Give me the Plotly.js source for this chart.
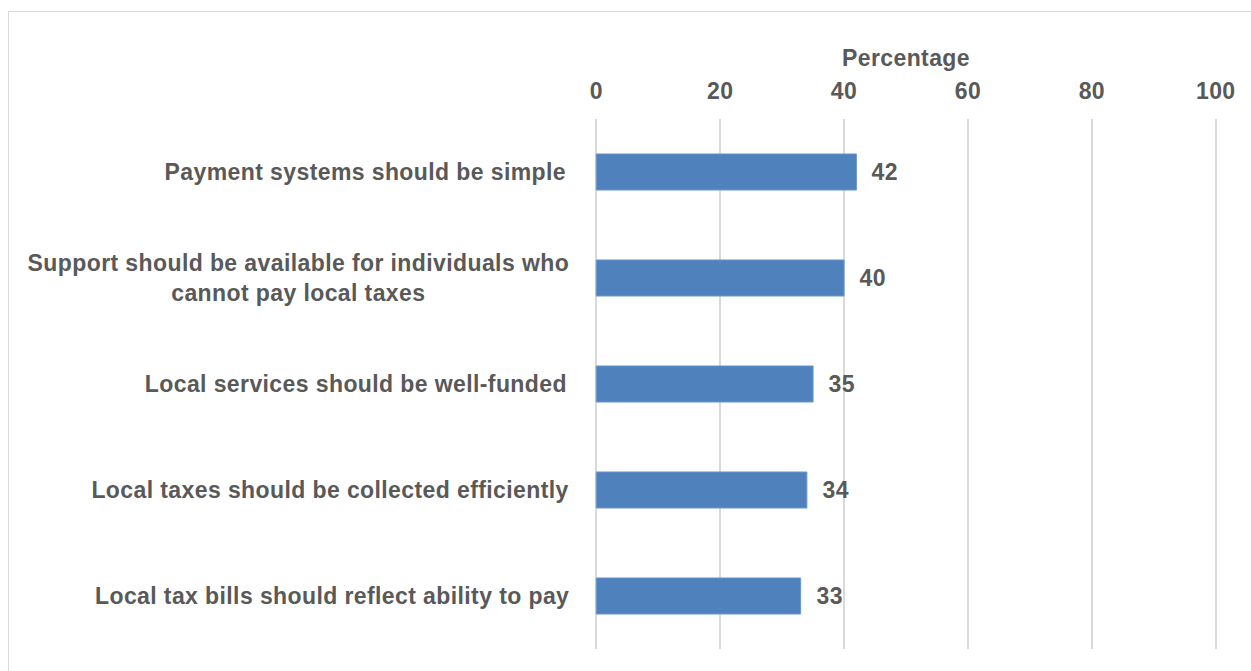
<!DOCTYPE html>
<html>
<head>
<meta charset="utf-8">
<script src="https://cdn.plot.ly/plotly-3.0.1.min.js"></script>
<style>
  html, body { margin: 0; padding: 0; background: #ffffff; }
  #wrap { position: relative; width: 1251px; height: 671px; overflow: hidden; }
  #frame { position: absolute; left: 8px; top: 11px; width: 1400px; height: 800px; border: 1px solid #d9d9d9; pointer-events: none; }
  #chart { position: absolute; left: 0; top: 0; width: 1251px; height: 671px; }
  #chart svg text { letter-spacing: 0.4px; }
</style>
</head>
<body>
<div id="wrap">
  <div id="frame"></div>
  <div id="chart"></div>
</div>
<script>
const categories = [
  "Payment systems should be simple",
  "Support should be available for individuals who<br>cannot pay local taxes",
  "Local services should be well-funded",
  "Local taxes should be collected efficiently",
  "Local tax bills should reflect ability to pay"
];
const values = [42, 40, 35, 34, 33];
const xTicks = [0, 20, 40, 60, 80, 100];

const FONT = "Liberation Sans, Arial, sans-serif";
const GRAY = "#595959";
const FS = 23;

const trace = {
  type: "bar",
  orientation: "h",
  x: values,
  y: categories,
  width: 0.34,
  marker: { color: "#4f81bd", line: { color: "#6d97cc", width: 1 } },
  hoverinfo: "x+y",
  cliponaxis: false
};

const annotations = [];
categories.forEach((c, i) => {
  annotations.push({
    x: 0, xref: "x", y: c, yref: "y",
    text: "<b>" + c + "</b>", showarrow: false,
    xanchor: "right", yanchor: "middle", align: "center",
    xshift: -34,
    font: { family: FONT, size: FS, color: GRAY }
  });
  annotations.push({
    x: values[i], xref: "x", y: c, yref: "y",
    text: "<b>" + values[i] + "</b>", showarrow: false,
    xanchor: "left", yanchor: "middle",
    xshift: 14,
    font: { family: FONT, size: FS, color: GRAY }
  });
});

const layout = {
  width: 1251, height: 671,
  margin: { l: 595, r: 34, t: 119, b: 22, pad: 0 },
  paper_bgcolor: "rgba(0,0,0,0)",
  plot_bgcolor: "rgba(0,0,0,0)",
  showlegend: false,
  bargap: 0.66,
  font: { family: FONT, size: FS, color: GRAY },
  xaxis: {
    side: "top",
    range: [-0.2, 100.2],
    tickvals: xTicks,
    ticktext: xTicks.map(v => "<b>" + v + "</b>"),
    showgrid: true, gridcolor: "#d9d9d9", gridwidth: 1.5,
    zeroline: true, zerolinecolor: "#d9d9d9", zerolinewidth: 1.5,
    showline: false,
    ticks: "", ticklabelstandoff: 14,
    tickfont: { family: FONT, size: FS, color: GRAY },
    title: { text: "<b>Percentage</b>", standoff: 5, font: { family: FONT, size: FS, color: GRAY } },
    fixedrange: true
  },
  yaxis: {
    type: "category",
    categoryorder: "array",
    categoryarray: categories,
    autorange: "reversed",
    showticklabels: false,
    showgrid: false, zeroline: false, showline: false, ticks: "",
    fixedrange: true
  },
  annotations: annotations
};

Plotly.newPlot("chart", [trace], layout, { displayModeBar: false, staticPlot: true });
</script>
</body>
</html>
